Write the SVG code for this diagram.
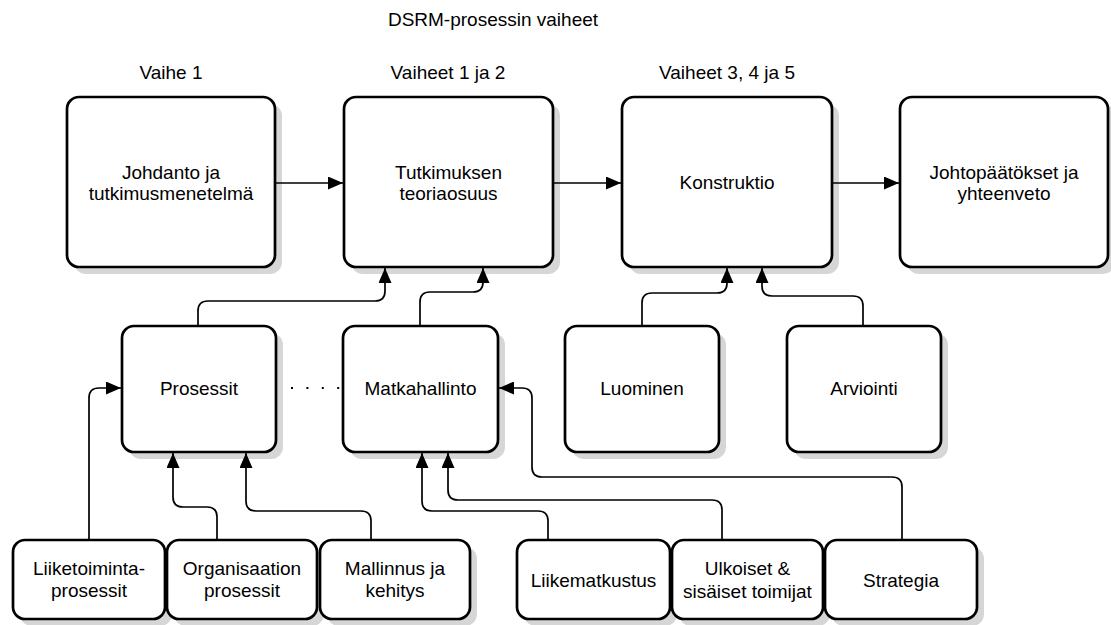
<svg xmlns="http://www.w3.org/2000/svg" width="1111" height="625" viewBox="0 0 1111 625">
  <style>
    .box { fill: #ffffff; stroke: #000000; stroke-width: 2.7; }
    .shadow { fill: #d6d6d6; stroke: none; }
    .lbl { font-family: "Liberation Sans", Arial, sans-serif; font-size: 19px; fill: #000000; text-anchor: middle; }
    .conn { fill: none; stroke: #000000; stroke-width: 1.7; }
    .dots { fill: none; stroke: #000000; stroke-width: 2; stroke-dasharray: 2 13.4; }
  </style>
  <defs>
    <marker id="arrow" markerUnits="userSpaceOnUse" markerWidth="15" markerHeight="13" refX="15" refY="6.5" orient="auto">
      <path d="M0,0 L15,6.5 L0,13 z" fill="#000000"/>
    </marker>
  </defs>

  <rect width="1111" height="625" fill="#ffffff"/>

  <!-- headings -->
  <text class="lbl" x="493" y="26">DSRM-prosessin vaiheet</text>
  <text class="lbl" x="171" y="79">Vaihe 1</text>
  <text class="lbl" x="448" y="79">Vaiheet 1 ja 2</text>
  <text class="lbl" x="727" y="79">Vaiheet 3, 4 ja 5</text>

  <!-- top row: thesis chapters -->
  <g id="johdanto">
    <rect class="shadow" x="74" y="104" width="208" height="170" rx="12"/>
    <rect class="box" x="67" y="97" width="208" height="170" rx="12"/>
    <text class="lbl" x="171" y="179">Johdanto ja</text>
    <text class="lbl" x="171" y="200">tutkimusmenetelmä</text>
  </g>
  <g id="teoriaosuus">
    <rect class="shadow" x="351" y="104" width="209" height="170" rx="12"/>
    <rect class="box" x="344" y="97" width="209" height="170" rx="12"/>
    <text class="lbl" x="448.5" y="179">Tutkimuksen</text>
    <text class="lbl" x="448.5" y="200">teoriaosuus</text>
  </g>
  <g id="konstruktio">
    <rect class="shadow" x="629" y="104" width="210" height="170" rx="12"/>
    <rect class="box" x="622" y="97" width="210" height="170" rx="12"/>
    <text class="lbl" x="727" y="189">Konstruktio</text>
  </g>
  <g id="johtopaatokset">
    <rect class="shadow" x="907" y="104" width="208" height="170" rx="12"/>
    <rect class="box" x="900" y="97" width="208" height="170" rx="12"/>
    <text class="lbl" x="1004" y="179">Johtopäätökset ja</text>
    <text class="lbl" x="1004" y="200">yhteenveto</text>
  </g>

  <!-- middle row -->
  <g id="prosessit">
    <rect class="shadow" x="129" y="333" width="154" height="126" rx="12"/>
    <rect class="box" x="122" y="326" width="154" height="126" rx="12"/>
    <text class="lbl" x="199" y="395">Prosessit</text>
  </g>
  <g id="matkahallinto">
    <rect class="shadow" x="350" y="333" width="155" height="126" rx="12"/>
    <rect class="box" x="343" y="326" width="155" height="126" rx="12"/>
    <text class="lbl" x="420.5" y="395">Matkahallinto</text>
  </g>
  <g id="luominen">
    <rect class="shadow" x="572" y="333" width="154" height="126" rx="12"/>
    <rect class="box" x="565" y="326" width="154" height="126" rx="12"/>
    <text class="lbl" x="642" y="395">Luominen</text>
  </g>
  <g id="arviointi">
    <rect class="shadow" x="794" y="333" width="154" height="126" rx="12"/>
    <rect class="box" x="787" y="326" width="154" height="126" rx="12"/>
    <text class="lbl" x="864" y="395">Arviointi</text>
  </g>

  <!-- bottom row -->
  <g id="liiketoimintaprosessit">
    <rect class="shadow" x="20" y="547" width="152" height="79" rx="12"/>
    <rect class="box" x="13" y="540" width="152" height="79" rx="12"/>
    <text class="lbl" x="89" y="575">Liiketoiminta-</text>
    <text class="lbl" x="89" y="597">prosessit</text>
  </g>
  <g id="organisaation-prosessit">
    <rect class="shadow" x="174" y="547" width="150" height="79" rx="12"/>
    <rect class="box" x="167" y="540" width="150" height="79" rx="12"/>
    <text class="lbl" x="242" y="575">Organisaation</text>
    <text class="lbl" x="242" y="597">prosessit</text>
  </g>
  <g id="mallinnus">
    <rect class="shadow" x="327" y="547" width="150" height="79" rx="12"/>
    <rect class="box" x="320" y="540" width="150" height="79" rx="12"/>
    <text class="lbl" x="395" y="575">Mallinnus ja</text>
    <text class="lbl" x="395" y="597">kehitys</text>
  </g>
  <g id="liikematkustus">
    <rect class="shadow" x="524" y="547" width="153" height="79" rx="12"/>
    <rect class="box" x="517" y="540" width="153" height="79" rx="12"/>
    <text class="lbl" x="593.5" y="587">Liikematkustus</text>
  </g>
  <g id="toimijat">
    <rect class="shadow" x="679" y="547" width="151" height="79" rx="12"/>
    <rect class="box" x="672" y="540" width="151" height="79" rx="12"/>
    <text class="lbl" x="747.5" y="575">Ulkoiset &amp;</text>
    <text class="lbl" x="747.5" y="598">sisäiset toimijat</text>
  </g>
  <g id="strategia">
    <rect class="shadow" x="832" y="547" width="152" height="79" rx="12"/>
    <rect class="box" x="825" y="540" width="152" height="79" rx="12"/>
    <text class="lbl" x="901" y="587">Strategia</text>
  </g>

  <!-- connectors, drawn over the node shadows -->
  <g id="connectors">
    <path class="conn" marker-end="url(#arrow)" d="M276,183 H343"/>
    <path class="conn" marker-end="url(#arrow)" d="M554,183 H621"/>
    <path class="conn" marker-end="url(#arrow)" d="M833,183 H899"/>
    <path class="conn" marker-end="url(#arrow)" d="M198,325 V311 Q198,301 208,301 H375 Q385,301 385,291 V268"/>
    <path class="conn" marker-end="url(#arrow)" d="M420,325 V302 Q420,292 430,292 H473 Q483,292 483,282 V268"/>
    <path class="conn" marker-end="url(#arrow)" d="M642,325 V303 Q642,293 652,293 H717 Q727,293 727,283 V268"/>
    <path class="conn" marker-end="url(#arrow)" d="M863,325 V306 Q863,296 853,296 H772 Q762,296 762,286 V268"/>
    <path class="conn" marker-end="url(#arrow)" d="M89,539 V398 Q89,388 99,388 H121"/>
    <path class="conn" marker-end="url(#arrow)" d="M217,539 V517 Q217,507 207,507 H183 Q173,507 173,497 V453"/>
    <path class="conn" marker-end="url(#arrow)" d="M371,539 V521 Q371,511 361,511 H256 Q246,511 246,501 V453"/>
    <path class="conn" marker-end="url(#arrow)" d="M548,539 V521 Q548,511 538,511 H432 Q422,511 422,501 V453"/>
    <path class="conn" marker-end="url(#arrow)" d="M722,539 V510 Q722,500 712,500 H458 Q448,500 448,490 V453"/>
    <path class="conn" marker-end="url(#arrow)" d="M902,539 V487 Q902,477 892,477 H542 Q532,477 532,467 V398 Q532,388 522,388 H499"/>
    <path class="dots" d="M291,388 H342"/>
  </g>
</svg>
